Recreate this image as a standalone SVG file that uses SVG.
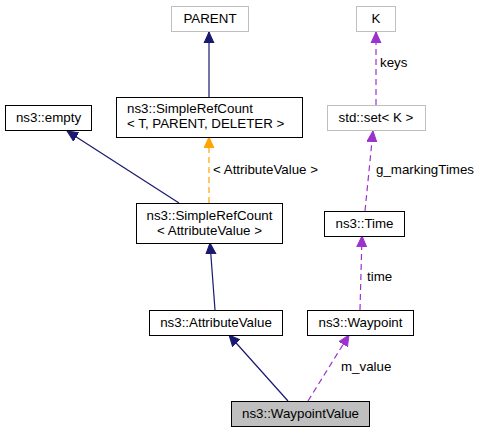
<svg xmlns="http://www.w3.org/2000/svg" width="479" height="432" viewBox="0 0 479 432">
<style>
text{font-family:"Liberation Sans",Arial,sans-serif;font-size:13.33px;fill:#000}
.n rect{fill:#fff;stroke:#000;stroke-width:1}
.g rect{fill:#fff;stroke:#bfbfbf;stroke-width:1}
.c{text-anchor:middle}
.e{fill:none;stroke-width:1.2}
.b{stroke:#191970}
.o{stroke:#ffa500;stroke-dasharray:6,4}
.p{stroke:#9a32cd;stroke-dasharray:6,4}
</style>
<defs>
<marker id="mb" markerUnits="userSpaceOnUse" markerWidth="13" markerHeight="12" viewBox="0 -6 13 12" refX="11" refY="0" orient="auto"><path d="M0,-5L11,0L0,5z" fill="#191970" stroke="#191970"/></marker>
<marker id="mo" markerUnits="userSpaceOnUse" markerWidth="13" markerHeight="12" viewBox="0 -6 13 12" refX="11" refY="0" orient="auto"><path d="M0,-5L11,0L0,5z" fill="#ffa500" stroke="#ffa500"/></marker>
<marker id="mp" markerUnits="userSpaceOnUse" markerWidth="13" markerHeight="12" viewBox="0 -6 13 12" refX="11" refY="0" orient="auto"><path d="M0,-5L11,0L0,5z" fill="#9a32cd" stroke="#9a32cd"/></marker>
</defs>
<g id="connectors">
<path class="e b" d="M209,97L209,32" marker-end="url(#mb)"/>
<path class="e b" d="M179,203L67,131" marker-end="url(#mb)"/>
<path class="e o" d="M209,203L209,137" marker-end="url(#mo)"/>
<text x="213" y="174">&lt; AttributeValue &gt;</text>
<path class="e p" d="M376,105L376,32" marker-end="url(#mp)"/>
<text x="380" y="67">keys</text>
<path class="e p" d="M365,211L373,131" marker-end="url(#mp)"/>
<text x="376" y="174">g_markingTimes</text>
<path class="e b" d="M215,310L210,243" marker-end="url(#mb)"/>
<path class="e p" d="M360,310L362,236" marker-end="url(#mp)"/>
<text x="367" y="281">time</text>
<path class="e b" d="M288,401L229,335" marker-end="url(#mb)"/>
<path class="e p" d="M308,401L349,335" marker-end="url(#mp)"/>
<text x="341" y="371">m_value</text>
</g>
<g id="PARENT" class="g"><rect x="171.5" y="6.5" width="77" height="25"/><text class="c" x="210" y="23">PARENT</text></g>
<g id="K" class="g"><rect x="356.5" y="6.5" width="39" height="25"/><text class="c" x="376" y="23">K</text></g>
<g id="empty" class="n"><rect x="5.5" y="105.5" width="86" height="25"/><text class="c" x="48.5" y="122">ns3::empty</text></g>
<g id="SRCgeneric" class="n"><rect x="116.5" y="97.5" width="186" height="40"/><text x="127" y="113">ns3::SimpleRefCount</text><text x="127" y="128">&lt; T, PARENT, DELETER &gt;</text></g>
<g id="stdset" class="g"><rect x="327.5" y="105.5" width="98" height="25"/><text class="c" x="376" y="122">std::set&lt; K &gt;</text></g>
<g id="SRCav" class="n"><rect x="136.5" y="203.5" width="146" height="40"/><text class="c" x="209.5" y="220">ns3::SimpleRefCount</text><text class="c" x="209.5" y="235">&lt; AttributeValue &gt;</text></g>
<g id="Time" class="n"><rect x="324.5" y="211.5" width="80" height="25"/><text class="c" x="364.5" y="228">ns3::Time</text></g>
<g id="AttributeValue" class="n"><rect x="149.5" y="310.5" width="133" height="25"/><text class="c" x="216" y="327">ns3::AttributeValue</text></g>
<g id="Waypoint" class="n"><rect x="307.5" y="310.5" width="106" height="25"/><text class="c" x="360.5" y="327">ns3::Waypoint</text></g>
<g id="WaypointValue" class="n"><rect x="231.5" y="401.5" width="138" height="25" style="fill:#bfbfbf"/><text class="c" x="300.5" y="418">ns3::WaypointValue</text></g>
</svg>
